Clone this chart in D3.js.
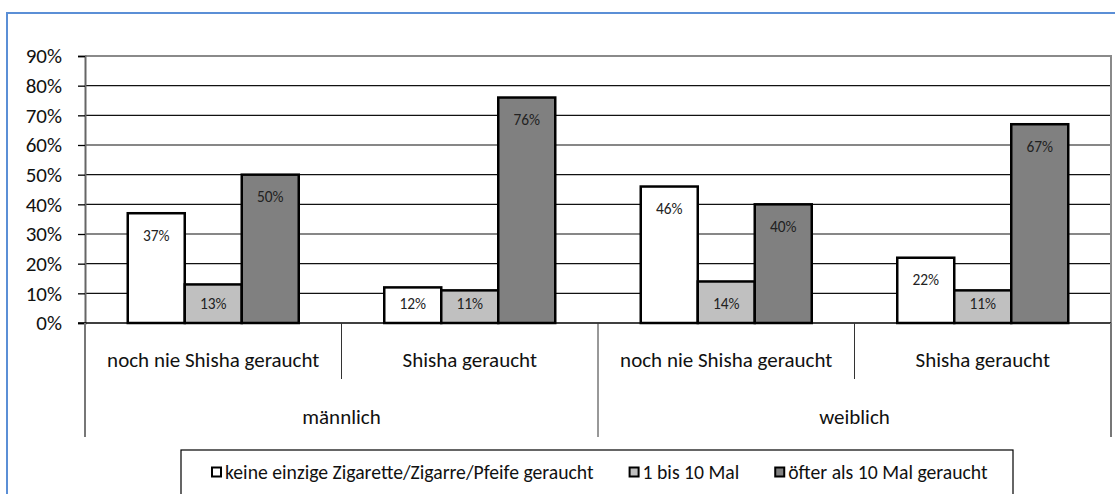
<!DOCTYPE html>
<html>
<head>
<meta charset="utf-8">
<script src="https://cdn.jsdelivr.net/npm/d3@7"></script>
<style>
  body { margin: 0; background: #fff; }
  svg { display: block; font-family: Calibri, Carlito, Lato, sans-serif; }
</style>
</head>
<body>
<div id="chart"></div>
<script>
// data
const groups = ['männlich', 'weiblich'];
const subCats = ['noch nie Shisha geraucht', 'Shisha geraucht'];
const seriesNames = [
  'keine einzige Zigarette/Zigarre/Pfeife geraucht',
  '1 bis 10 Mal',
  'öfter als 10 Mal geraucht'
];
const keineEinzige = [37, 12, 46, 22];
const einsBisZehn = [13, 11, 14, 11];
const oefterAlsZehn = [50, 76, 40, 67];
const yTicks = [0, 10, 20, 30, 40, 50, 60, 70, 80, 90];

const seriesValues = [keineEinzige, einsBisZehn, oefterAlsZehn];
const seriesFill = ['#ffffff', '#c0c0c0', '#808080'];

const width = 1115;
const height = 494;
const plot = {left: 85, top: 56, right: 1111, bottom: 323};

// one key per column: group + sub category
const cats = d3.cross(groups, subCats).map(([g, s], i) => ({key: i, group: g, sub: s}));

const svg = d3.select('#chart')
  .append('svg')
    .attr('width', width)
    .attr('height', height);

// outer frame (cut off at right and bottom)
svg.append('rect')
  .attr('x', 7).attr('y', 13)
  .attr('width', 1200).attr('height', 600)
  .attr('fill', 'none')
  .attr('stroke', '#5b8fd6')
  .attr('stroke-width', 2);

const x = d3.scaleBand()
  .domain(cats.map(d => d.key))
  .range([plot.left, plot.right]);

const xInner = d3.scaleBand()
  .domain(d3.range(seriesNames.length))
  .range([0, x.bandwidth()])
  .paddingOuter(0.75);

const y = d3.scaleLinear()
  .domain([0, 90])
  .range([plot.bottom, plot.top]);

// gridlines
svg.append('g')
  .selectAll('line')
  .data(yTicks.filter(t => t > 0 && t < 90))
  .join('line')
    .attr('x1', plot.left).attr('x2', plot.right)
    .attr('y1', d => y(d)).attr('y2', d => y(d))
    .attr('stroke', '#111')
    .attr('stroke-width', 1.2);

// plot area border (top + right)
svg.append('path')
  .attr('d', `M${plot.left},${y(90)}H${plot.right}V${plot.bottom}`)
  .attr('fill', 'none')
  .attr('stroke', '#8a8a8a')
  .attr('stroke-width', 2);

// bars
const colG = svg.append('g')
  .selectAll('g')
  .data(cats)
  .join('g')
    .attr('transform', d => `translate(${x(d.key)},0)`);

const barData = c => seriesValues.map((vals, s) => ({s, v: vals[c.key]}));

colG.selectAll('rect')
  .data(barData)
  .join('rect')
    .attr('x', d => xInner(d.s))
    .attr('y', d => y(d.v))
    .attr('width', xInner.bandwidth())
    .attr('height', d => y(0) - y(d.v))
    .attr('fill', d => seriesFill[d.s])
    .attr('stroke', '#000')
    .attr('stroke-width', 2.5);

// inside-end labels, kept clear of the baseline
colG.selectAll('text')
  .data(barData)
  .join('text')
    .attr('x', d => xInner(d.s) + xInner.bandwidth() / 2)
    .attr('y', d => Math.min(y(d.v) + 22, y(0) - 20))
    .attr('text-anchor', 'middle')
    .attr('dominant-baseline', 'central')
    .attr('font-size', 15.4)
    .attr('fill', '#222')
    .text(d => d.v + '%');

// y axis
const yAxis = svg.append('g')
  .attr('transform', `translate(${plot.left},0)`)
  .call(d3.axisLeft(y).tickValues(yTicks).tickSize(7).tickPadding(16)
    .tickFormat(d => d + '%'));
yAxis.select('.domain').attr('stroke', '#666').attr('stroke-width', 2);
yAxis.selectAll('.tick line').attr('stroke', '#000').attr('stroke-width', 1.3);
yAxis.selectAll('.tick text')
  .attr('font-size', 21)
  .attr('font-family', 'Calibri, Carlito, Lato, sans-serif')
  .attr('fill', '#111');

// x axis line at 0%
svg.append('line')
  .attr('x1', plot.left - 7).attr('x2', plot.right)
  .attr('y1', y(0)).attr('y2', y(0))
  .attr('stroke', '#000')
  .attr('stroke-width', 1.5);

// category axis: separators
const axisG = svg.append('g');
const bounds = d3.range(cats.length + 1).map(i =>
  i < cats.length ? x(cats[i].key) : x(cats[cats.length - 1].key) + x.bandwidth());
axisG.selectAll('line')
  .data(bounds)
  .join('line')
    .attr('x1', d => d).attr('x2', d => d)
    .attr('y1', y(0))
    .attr('y2', (d, i) => i % subCats.length === 0 ? 437 : 379)
    .attr('stroke', (d, i) => i === 0 || i === cats.length ? '#777' : '#333')
    .attr('stroke-width', (d, i) => i === 0 || i === cats.length ? 2 : 1);

axisG.selectAll('text.sub')
  .data(cats)
  .join('text')
    .attr('class', 'sub')
    .attr('x', d => x(d.key) + x.bandwidth() / 2)
    .attr('y', 360)
    .attr('text-anchor', 'middle')
    .attr('dominant-baseline', 'central')
    .attr('font-size', 21)
    .attr('fill', '#111')
    .text(d => d.sub);

axisG.selectAll('text.grp')
  .data(groups)
  .join('text')
    .attr('class', 'grp')
    .attr('x', (g, i) => x(cats[i * subCats.length].key) + x.bandwidth() * subCats.length / 2)
    .attr('y', 417)
    .attr('text-anchor', 'middle')
    .attr('dominant-baseline', 'central')
    .attr('font-size', 21)
    .attr('fill', '#111')
    .text(d => d);

// legend
const legend = svg.append('g');
legend.append('rect')
  .attr('x', 181).attr('y', 450)
  .attr('width', 832).attr('height', 80)
  .attr('fill', '#fff')
  .attr('stroke', '#000')
  .attr('stroke-width', 1.2);

let lx = 212;
seriesNames.forEach((name, i) => {
  const item = legend.append('g').attr('transform', `translate(${lx},472)`);
  item.append('rect')
    .attr('x', 0).attr('y', -4.5)
    .attr('width', 9).attr('height', 9)
    .attr('fill', seriesFill[i])
    .attr('stroke', '#000')
    .attr('stroke-width', 2);
  const t = item.append('text')
    .attr('x', 13)
    .attr('dominant-baseline', 'central')
    .attr('font-size', 19.7)
    .attr('fill', '#111')
    .text(name);
  lx += 13 + t.node().getComputedTextLength() + 36;
});
</script>
</body>
</html>
